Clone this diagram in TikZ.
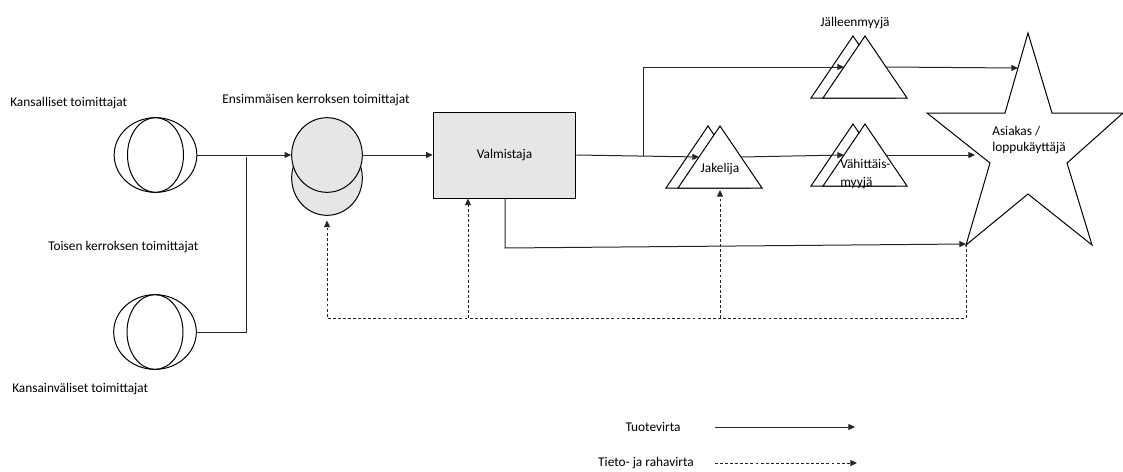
\documentclass[tikz,border=0pt]{standalone}
\usepackage{fontspec}
\setmainfont{Carlito}
\usetikzlibrary{arrows.meta, shapes.geometric}

\definecolor{boxgray}{HTML}{E6E6E6}
\tikzset{
  shapeline/.style={draw=black, line width=0.75pt},
  flow/.style={draw=black!85, line width=0.75pt, -{Triangle[length=5pt,width=4.5pt]}},
  info/.style={flow, dash pattern=on 2.2pt off 1.6pt},
  lbl/.style={inner sep=0pt},
}

\begin{document}
\begin{tikzpicture}[x=0.75pt, y=-0.75pt, font=\fontsize{10}{12}\selectfont]
  \useasboundingbox (0,0) rectangle (1123,471);

  % Suppliers (double ellipses)
  \node[shapeline, ellipse, minimum width=62pt, minimum height=56pt] (kans) at (155.5,155) {};
  \node[shapeline, ellipse, minimum width=42pt, minimum height=56pt] at (155.5,155) {};
  \node[lbl, anchor=west] (kanslbl) at (10,103) {Kansalliset toimittajat};

  \node[shapeline, ellipse, minimum width=62pt, minimum height=56pt] (kansv) at (155,332) {};
  \node[shapeline, ellipse, minimum width=42pt, minimum height=56pt] at (155,332) {};
  \node[lbl, anchor=west] (kansvlbl) at (12,389) {Kansainväliset toimittajat};
  \node[lbl, anchor=west] (toinen) at (48,247) {Toisen kerroksen toimittajat};

  % First tier suppliers
  \node[shapeline, ellipse, fill=boxgray, minimum width=53pt, minimum height=56pt] (ens2) at (327,178) {};
  \node[shapeline, ellipse, fill=boxgray, minimum width=53pt, minimum height=56pt] (ens) at (327,155) {};
  \node[lbl] (enslbl) at (316,100) {Ensimmäisen kerroksen toimittajat};

  % Manufacturer
  \node[shapeline, fill=boxgray, minimum width=107pt, minimum height=64.5pt] (valm) at (504.5,155) {Valmistaja};

  % Triangles (back + front)
  \foreach \ax/\ay/\nm in {720/126/jak, 865/36/jal, 865/124/vah} {
    \draw[shapeline, fill=white] (\ax-12,\ay) -- (\ax-54,\ay+62) -- (\ax+30,\ay+62) -- cycle;
    \draw[shapeline, fill=white] (\ax,\ay) -- (\ax-42,\ay+62) -- (\ax+42,\ay+62) -- cycle;
    \coordinate (\nm-in) at (\ax-21,\ay+31);
    \coordinate (\nm-out) at (\ax+21,\ay+31);
    \coordinate (\nm-base) at (\ax,\ay+62);
  }
  \node[lbl] (jaklbl) at (720,169) {Jakelija};
  \node[lbl] (jallbl) at (855,23) {Jälleenmyyjä};
  \node[lbl, anchor=west, align=left] (vahlbl) at (840,174) {Vähittäis-\\[1pt]myyjä};

  % Star
  \draw[shapeline] (1028,33) -- (1052,113) -- (1123,113) -- (1067,163) -- (1092,245)
    -- (1028,194) -- (966,245) -- (990,163) -- (927,113) -- (1005,113) -- cycle;
  \node[lbl, anchor=west, align=left] (asiakas) at (992,140) {Asiakas /\\loppukäyttäjä};
  \coordinate (star-top) at (1018,68);
  \coordinate (star-mid) at (975,155);
  \coordinate (star-low) at (966,244);

  % Product flow
  \coordinate (join) at (246,157);
  \coordinate (branch) at (643,156);
  \coordinate (low) at (505,248);
  \draw[flow] (kans.east) -- (ens.west);
  \draw[draw=black!85, line width=0.75pt] (kansv.east) -| (join);
  \draw[flow] (ens.east) -- (valm.west);
  \draw[flow] (valm.east) -- (jak-in);
  \draw[flow] (branch) |- (jal-in);
  \draw[flow] (jak-out) -- (vah-in);
  \draw[flow] (jal-out) -- (star-top);
  \draw[flow] (vah-out) -- (star-mid);
  \draw[flow] (valm.south -| low) -- (low) -- (star-low);

  % Information and money flow
  \coordinate (fb) at (966,318);
  \coordinate (fv) at (468,318);
  \coordinate (fj) at (720,318);
  \draw[info, shorten >=3.5pt] (star-low) -- (fb) -- (fb -| ens2.south) -- (ens2.south);
  \draw[info] (fv) -- (fv |- valm.south);
  \draw[info, shorten >=1.5pt] (fj) -- (jak-base);

  % Legend
  \node[lbl] (leg1) at (653,427) {Tuotevirta};
  \node[lbl] (leg2) at (646,463) {Tieto- ja rahavirta};
  \coordinate (leg1a) at (715,427);
  \coordinate (leg1b) at (855,427);
  \coordinate (leg2a) at (715,463);
  \coordinate (leg2b) at (857,463);
  \draw[flow] (leg1a) -- (leg1b);
  \draw[info] (leg2a) -- (leg2b);

\end{tikzpicture}
\end{document}
